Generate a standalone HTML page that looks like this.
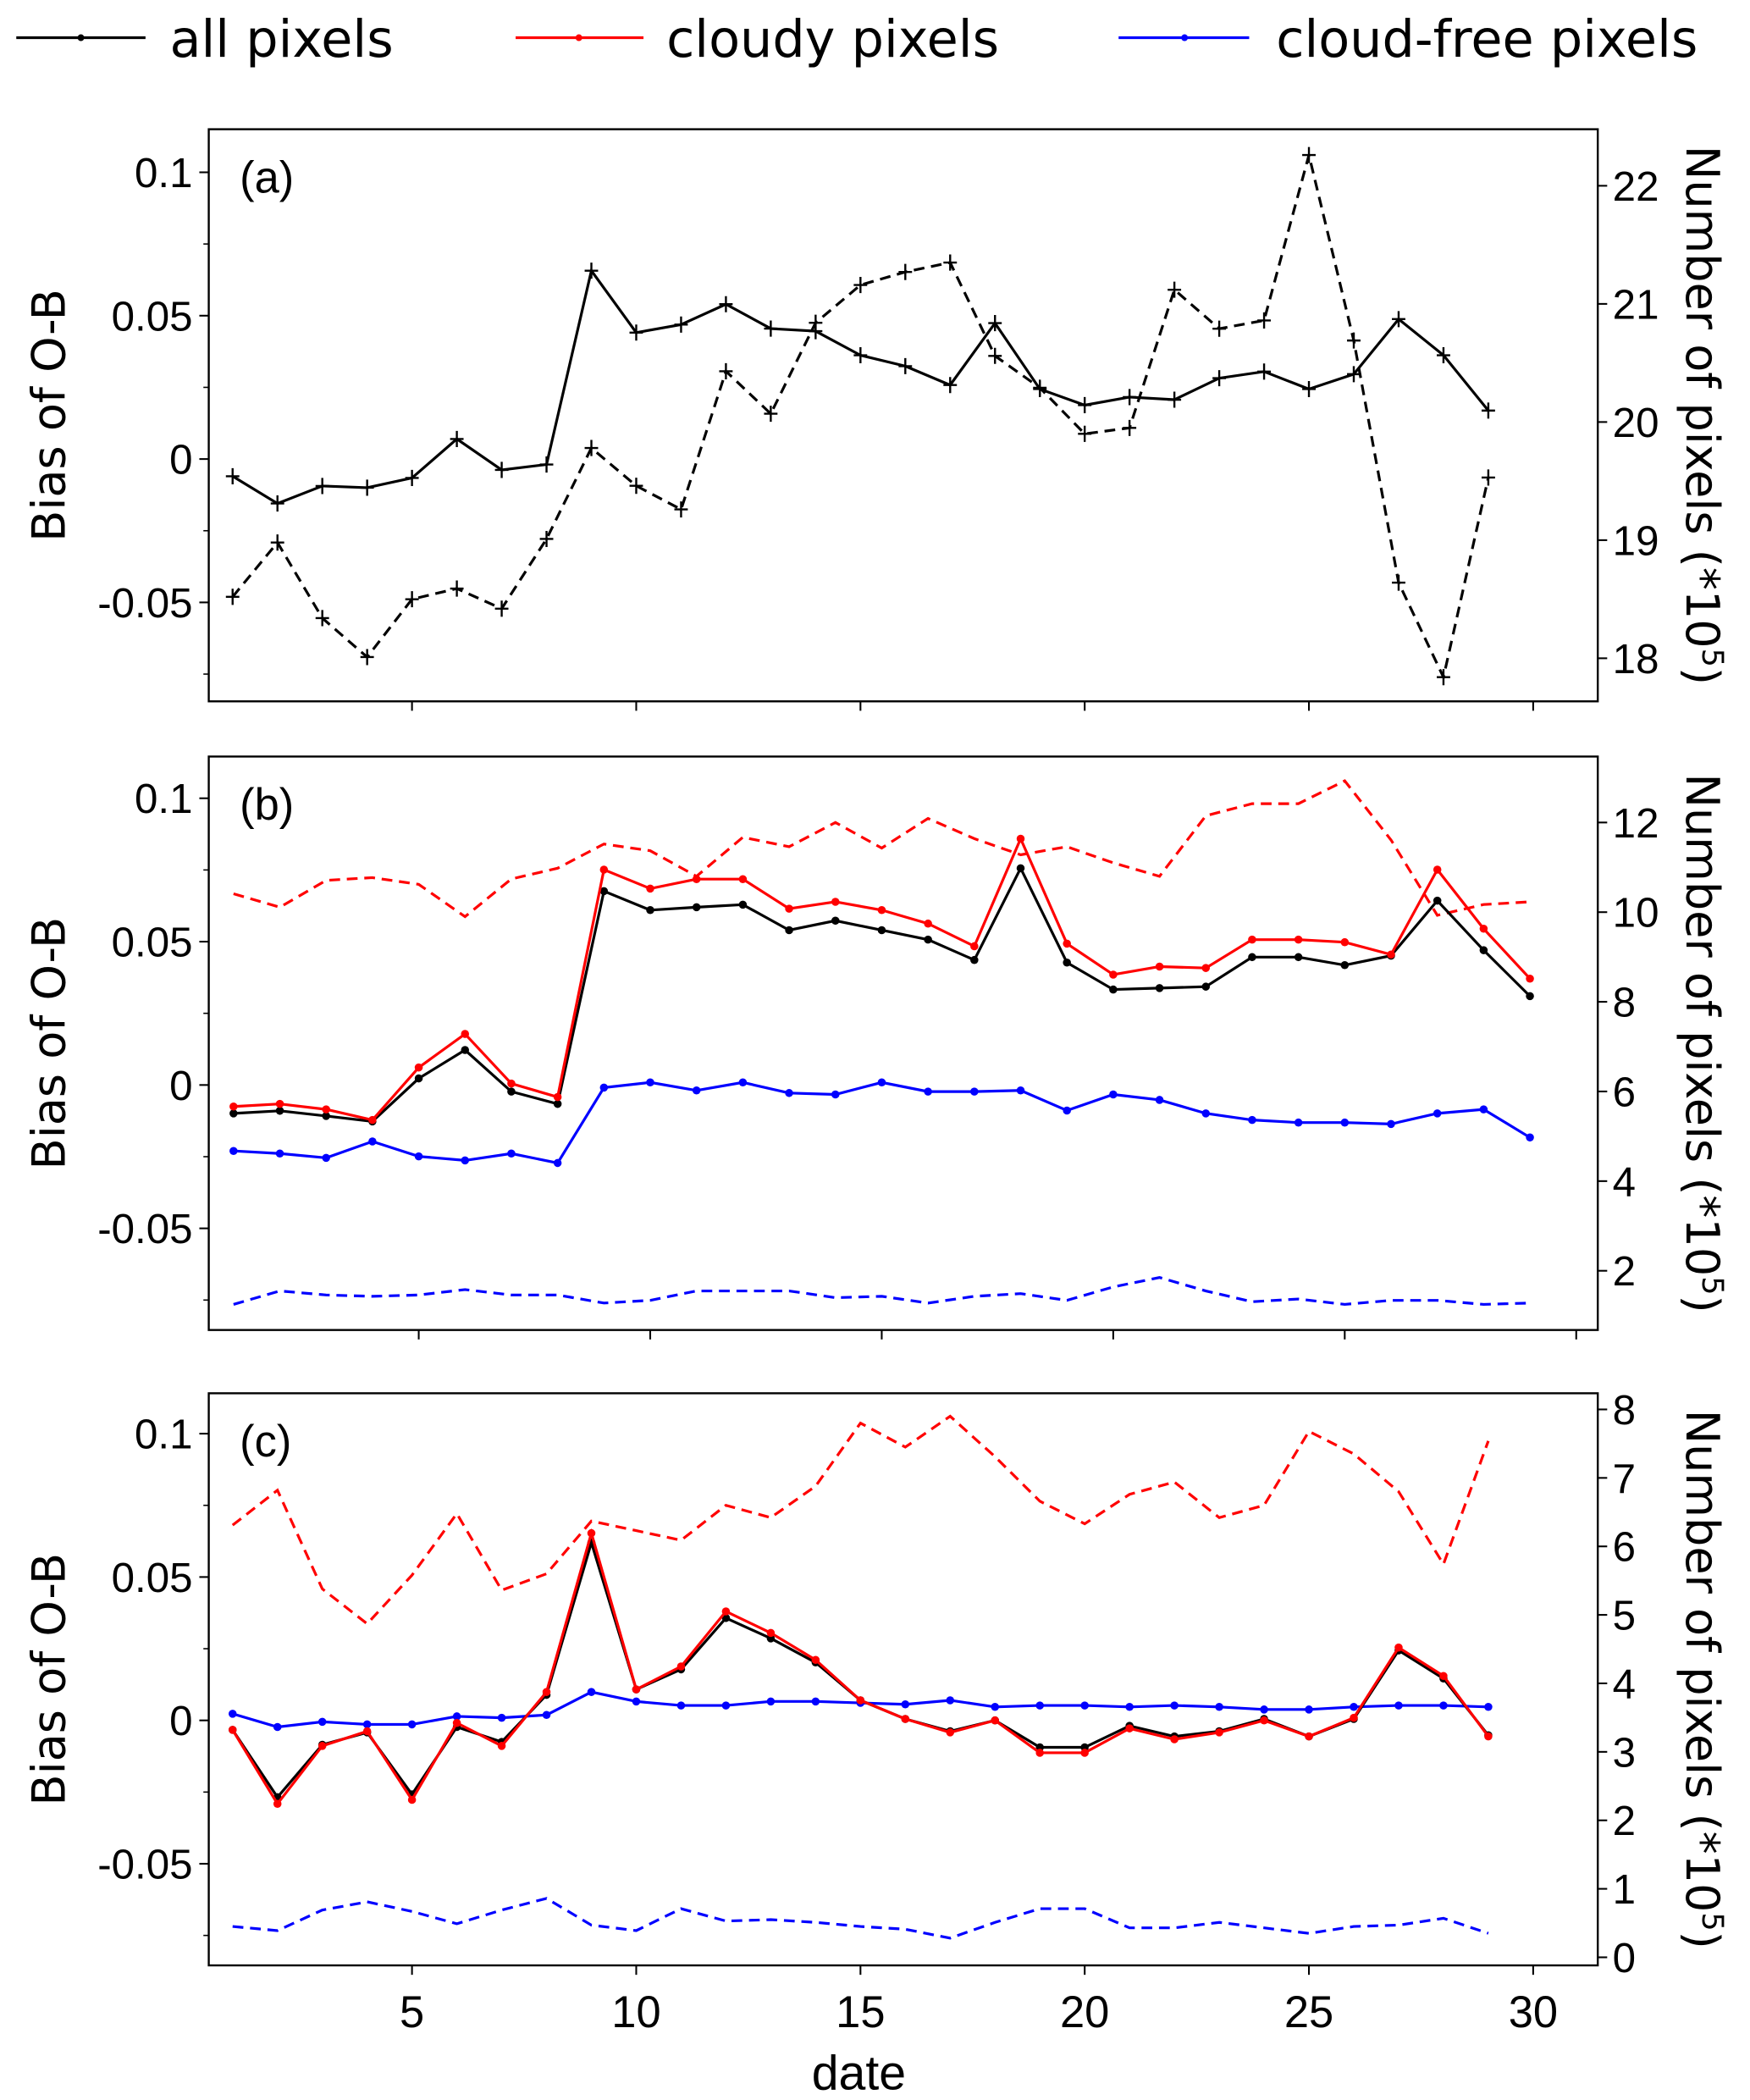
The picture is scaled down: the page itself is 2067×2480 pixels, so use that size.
<!DOCTYPE html>
<html><head><meta charset="utf-8"><style>html,body{margin:0;padding:0;background:#fff}svg{display:block}</style></head>
<body>
<svg id="chart" width="2067" height="2480" viewBox="0 0 1300 1560" xmlns="http://www.w3.org/2000/svg" font-family="'Liberation Sans', 'DejaVu Sans', sans-serif">
<g font-family="'DejaVu Sans', sans-serif">
 <g><line x1="12" y1="28" x2="108" y2="28" stroke="#000" stroke-width="2"/><circle cx="60" cy="28" r="2.5" fill="#000"/><text x="126" y="42" font-size="38">all pixels</text></g>
 <g><line x1="383" y1="28" x2="478" y2="28" stroke="red" stroke-width="2"/><circle cx="430" cy="28" r="2.5" fill="red"/><text x="495" y="42" font-size="38">cloudy pixels</text></g>
 <g><line x1="831" y1="28" x2="928" y2="28" stroke="blue" stroke-width="2"/><circle cx="880" cy="28" r="2.5" fill="blue"/><text x="948" y="42" font-size="38">cloud-free pixels</text></g>
</g>
</svg>
<script>
// x categories
const daysA = [1,2,3,4,5,6,7,8,9,10,11,12,13,14,15,16,17,18,19,20,21,22,23,24,25,26,27,28,29];
const xTicks = [5,10,15,20,25,30];
const leftTicks = [-0.05,0,0.05,0.1];
const leftTickLabels = ['-0.05','0','0.05','0.1'];
const minorTicks = [-0.075,-0.025,0.025,0.075];
// panel a
const aBias = [-0.006,-0.0155,-0.0094,-0.01,-0.0066,0.007,-0.0038,-0.0019,0.0657,0.0441,0.0469,0.054,0.0455,0.0446,0.0362,0.0324,0.0258,0.0474,0.0244,0.0188,0.0216,0.0207,0.0282,0.0305,0.0244,0.0296,0.0488,0.0362,0.0169];
const aCount = [18.52,18.98,18.34,18.01,18.50,18.59,18.42,19.01,19.78,19.46,19.26,20.43,20.07,20.84,21.16,21.27,21.35,20.56,20.29,19.90,19.95,21.12,20.79,20.86,22.26,20.69,18.64,17.84,19.53];
const aRightTicks = [18,19,20,21,22];
// panel b
const bAll = [-0.0099,-0.009,-0.0108,-0.0127,0.0023,0.0122,-0.0023,-0.0066,0.0676,0.061,0.062,0.0629,0.054,0.0573,0.054,0.0507,0.0436,0.0756,0.0427,0.0333,0.0338,0.0343,0.0446,0.0446,0.0418,0.0451,0.0643,0.047,0.031];
const bCloudy = [-0.0075,-0.0066,-0.0085,-0.0122,0.0061,0.0178,0.0005,-0.0042,0.0751,0.0685,0.0718,0.0718,0.0615,0.0639,0.061,0.0563,0.0484,0.0859,0.0493,0.0385,0.0413,0.0408,0.0507,0.0507,0.0498,0.0455,0.0751,0.0545,0.0371];
const bClear = [-0.023,-0.0239,-0.0254,-0.0197,-0.0249,-0.0263,-0.0239,-0.0272,-0.0009,0.0009,-0.0019,0.0009,-0.0028,-0.0033,0.0009,-0.0023,-0.0023,-0.0019,-0.0089,-0.0033,-0.0052,-0.0099,-0.0122,-0.0131,-0.0131,-0.0136,-0.0099,-0.0085,-0.0183];
const bCloudyCount = [10.41,10.11,10.71,10.77,10.62,9.90,10.74,10.98,11.52,11.37,10.80,11.67,11.46,12.0,11.43,12.09,11.64,11.28,11.46,11.10,10.80,12.15,12.42,12.42,12.93,11.61,9.93,10.17,10.23];
const bClearCount = [1.25,1.55,1.46,1.43,1.46,1.58,1.46,1.46,1.28,1.34,1.55,1.55,1.55,1.40,1.43,1.28,1.43,1.49,1.34,1.64,1.85,1.55,1.31,1.37,1.25,1.34,1.34,1.25,1.28];
const bRightTicks = [2,4,6,8,10,12];
// panel c
const cAll = [-0.0033,-0.0268,-0.0085,-0.0042,-0.0258,-0.0023,-0.0075,0.0089,0.062,0.0108,0.0178,0.0357,0.0286,0.0202,0.007,0.0005,-0.0038,0,-0.0094,-0.0094,-0.0019,-0.0056,-0.0038,0.0005,-0.0056,0.0005,0.0244,0.0146,-0.0052];
const cCloudy = [-0.0033,-0.0291,-0.0089,-0.0038,-0.0277,-0.0009,-0.0089,0.0099,0.0653,0.0108,0.0188,0.038,0.0305,0.0211,0.007,0.0005,-0.0042,0,-0.0113,-0.0113,-0.0028,-0.0066,-0.0042,0,-0.0056,0.0009,0.0254,0.0155,-0.0056];
const cClear = [0.0023,-0.0023,-0.0005,-0.0014,-0.0014,0.0014,0.0009,0.0019,0.0099,0.0066,0.0052,0.0052,0.0066,0.0066,0.0061,0.0056,0.007,0.0047,0.0052,0.0052,0.0047,0.0052,0.0047,0.0038,0.0038,0.0047,0.0052,0.0052,0.0047];
const cCloudyCount = [6.31,6.82,5.38,4.87,5.58,6.48,5.36,5.60,6.37,6.23,6.09,6.60,6.42,6.88,7.80,7.45,7.90,7.31,6.66,6.33,6.76,6.94,6.42,6.60,7.68,7.35,6.80,5.74,7.54];
const cClearCount = [0.45,0.39,0.69,0.81,0.67,0.49,0.69,0.86,0.47,0.39,0.71,0.53,0.55,0.51,0.45,0.41,0.28,0.51,0.71,0.71,0.43,0.43,0.51,0.43,0.35,0.45,0.47,0.57,0.35];
const cRightTicks = [0,1,2,3,4,5,6,7,8];

const NS='http://www.w3.org/2000/svg';
const svg=document.getElementById('chart');
function mk(tag,attrs,parent){const e=document.createElementNS(NS,tag);for(const k in attrs)e.setAttribute(k,attrs[k]);(parent||svg).appendChild(e);return e;}
const L=155,R=1187;
const TF="'DejaVu Sans', sans-serif";
function panel(name,top,bot,xAt5,perDay,y0,yPer,rMin,rMax,rMinY,rMaxY,rTicks,label,showX){
  const g=mk('g',{});
  
  
  const xs=d=>xAt5+(d-5)*perDay;
  const yl=v=>y0-v*yPer;
  const yr=v=>rMinY+(v-rMin)*(rMaxY-rMinY)/(rMax-rMin);
  const frame=mk('rect',{x:L,y:top,width:R-L,height:bot-top,fill:'none',stroke:'#000','stroke-width':1.5},g);
  
  
  leftTicks.forEach((t,i)=>{const y=yl(t);mk('line',{x1:L-7,y1:y,x2:L,y2:y,stroke:'#000','stroke-width':1.3},g);
    const tx=mk('text',{x:L-12,y:y+11,'font-size':31,'text-anchor':'end'},g);tx.textContent=leftTickLabels[i];
    
    });
  minorTicks.forEach(t=>{const y=yl(t);if(y>top&&y<bot)mk('line',{x1:L-4,y1:y,x2:L,y2:y,stroke:'#000','stroke-width':1},g);});
  rTicks.forEach(t=>{const y=yr(t);mk('line',{x1:R,y1:y,x2:R+7,y2:y,stroke:'#000','stroke-width':1.3},g);
    const tx=mk('text',{x:R+11,y:y+11,'font-size':31},g);tx.textContent=String(t);
    
    });
  xTicks.forEach(t=>{const x=xs(t);mk('line',{x1:x,y1:bot,x2:x,y2:bot+7,stroke:'#000','stroke-width':1.3},g);
    if(showX){const tx=mk('text',{x:x,y:bot+46,'font-size':33,'text-anchor':'middle'},g);tx.textContent=String(t);
      
      }});
  const pl=mk('text',{x:L+23,y:top+47,'font-size':33},g);pl.textContent=label;
  
  
  const mid=(top+bot)/2;
  const yt=mk('text',{x:0,y:0,'font-size':34,'font-family':TF,'text-anchor':'middle',transform:`translate(48,${mid}) rotate(-90)`},g);yt.textContent='Bias of O-B';
  
  
  const rt=mk('text',{x:0,y:0,'font-size':34,'font-family':TF,'text-anchor':'middle',transform:`translate(1253,${mid}) rotate(90)`},g);
  rt.innerHTML='Number of pixels (*10<tspan dy="-12" font-size="22">5</tspan><tspan dy="12">)</tspan>';
  
  
  return {g,xs,yl,yr};
}
function series(p,vals,right,color,dash,marker,nm){
  const f=right?p.yr:p.yl;
  const pts=vals.map((v,i)=>[p.xs(daysA[i]),f(v)]);
  const pl=mk('polyline',{points:pts.map(q=>q.join(',')).join(' '),fill:'none',stroke:color,'stroke-width':2,'stroke-dasharray':dash?'8,5':'none'},p.g);
  
  
  pts.forEach(q=>{
    if(marker==='dot')mk('circle',{cx:q[0],cy:q[1],r:3,fill:color},p.g);
    else if(marker==='plus'){mk('path',{d:`M${q[0]-5},${q[1]}h10M${q[0]},${q[1]-6}v12`,stroke:color,'stroke-width':1.5},p.g);}
  });
}
const pa=panel('a',96,521,306,33.32,341,2130,18,22,489,138,aRightTicks,'(a)',false);
series(pa,aCount,true,'#000',true,'plus','line-a-count');
series(pa,aBias,false,'#000',false,'plus','line-a-bias');
const pb=panel('b',562,988,311,34.4,806,2130,2,12,944,611,bRightTicks,'(b)',false);
series(pb,bCloudyCount,true,'red',true,null,'line-b-cloudy-count');
series(pb,bClearCount,true,'blue',true,null,'line-b-clear-count');
series(pb,bClear,false,'blue',false,'dot','line-b-clear-bias');
series(pb,bAll,false,'#000',false,'dot','line-b-all-bias');
series(pb,bCloudy,false,'red',false,'dot','line-b-cloudy-bias');
const pc=panel('c',1035,1460,306,33.32,1278,2130,0,8,1454,1047,cRightTicks,'(c)',true);
series(pc,cCloudyCount,true,'red',true,null,'line-c-cloudy-count');
series(pc,cClearCount,true,'blue',true,null,'line-c-clear-count');
series(pc,cClear,false,'blue',false,'dot','line-c-clear-bias');
series(pc,cAll,false,'#000',false,'dot','line-c-all-bias');
series(pc,cCloudy,false,'red',false,'dot','line-c-cloudy-bias');
const xt=mk('text',{x:638,y:1552,'font-size':36,'text-anchor':'middle'});xt.textContent='date';


</script>
</body></html>
